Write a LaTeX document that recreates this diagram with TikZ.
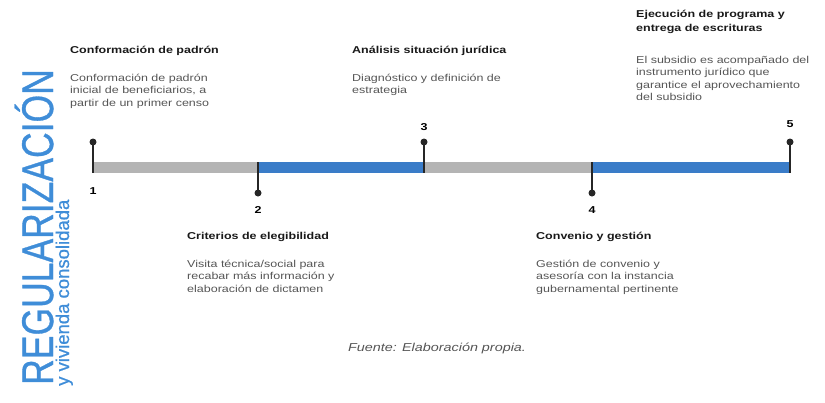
\documentclass[tikz,border=0pt]{standalone}
\usepackage{fontspec}
\setmainfont{Liberation Sans}[FakeStretch=1.25]
\newfontfamily\sidefont{Liberation Sans}[FakeBold=0.8]
\usetikzlibrary{positioning}
\definecolor{tlblue}{HTML}{3A7CC8}
\definecolor{tlgray}{HTML}{B4B4B4}
\definecolor{sideblue}{HTML}{3F8DD8}
\definecolor{txtgray}{HTML}{555555}

\begin{document}
\begin{tikzpicture}[x=1pt, y=-1pt,
  every node/.style={inner sep=0pt},
  dot/.style={circle, draw=none, fill=black!85, minimum size=7pt},
  stem/.style={line width=1.8pt, draw=black!85},
  seg/.style={line width=11pt},
  num/.style={font=\fontsize{10}{12}\selectfont\bfseries},
  head/.style={anchor=base west, align=left, text=black!90, font=\fontsize{10}{13.8}\selectfont\bfseries},
  body/.style={align=left, text=txtgray, font=\fontsize{10}{12.6}\selectfont}]
  \useasboundingbox (0,0) rectangle (825,402);
  % Side title
  \node[rotate=90, anchor=base west, text=sideblue, font=\sidefont\fontsize{35.5}{36}\selectfont] (title) at (53,385) {\scalebox{1}[1.25]{REGULARIZACIÓN}};
  \node[rotate=90, anchor=base west, text=sideblue, font=\sidefont\fontsize{18.5}{19}\selectfont] (subtitle) at (69,386) {y vivienda consolidada};
  % Timeline
  \coordinate (p1) at (93,167.5);
  \coordinate (p2) at (258,167.5);
  \coordinate (p3) at (424,167.5);
  \coordinate (p4) at (592,167.5);
  \coordinate (p5) at (790,167.5);
  \draw[seg, tlgray] (p1) -- (p2);
  \draw[seg, tlblue] (p2) -- (p3);
  \draw[seg, tlgray] (p3) -- (p4);
  \draw[seg, tlblue] (p4) -- (p5);
  % Stems above the bar
  \foreach \i/\x in {1/93, 3/424, 5/790} {
    \node[dot] (d\i) at (\x,142) {};
    \coordinate (e\i) at (\x,173);
    \draw[stem] (d\i.center) -- (e\i);
  }
  % Stems below the bar
  \foreach \i/\x in {2/258, 4/592} {
    \coordinate (e\i) at (\x,162);
    \node[dot] (d\i) at (\x,193) {};
    \draw[stem] (e\i) -- (d\i.center);
  }
  \node[num] (n1) at (93,191) {1};
  \node[num] (n2) at (258,210) {2};
  \node[num] (n3) at (424,127) {3};
  \node[num] (n4) at (592,210) {4};
  \node[num] (n5) at (790,124) {5};
  % Steps
  \node[head] (h1) at (70,53.6) {Conformación de padrón};
  \node[body, below=20pt of h1.base west, anchor=north west] (b1) {Conformación de padrón\\inicial de beneficiarios, a\\partir de un primer censo};
  \node[head] (h3) at (352,53.6) {Análisis situación jurídica};
  \node[body, below=20pt of h3.base west, anchor=north west] (b3) {Diagnóstico y definición de\\estrategia};
  \node[head] (h5) at (636,31.6) {Ejecución de programa y\\entrega de escrituras};
  \node[body, below=24pt of h5.base west, anchor=north west] (b5) {El subsidio es acompañado del\\instrumento jurídico que\\garantice el aprovechamiento\\del subsidio};
  \node[head] (h2) at (187,239.6) {Criterios de elegibilidad};
  \node[body, below=20pt of h2.base west, anchor=north west] (b2) {Visita técnica/social para\\recabar más información y\\elaboración de dictamen};
  \node[head] (h4) at (536,239.6) {Convenio y gestión};
  \node[body, below=20pt of h4.base west, anchor=north west] (b4) {Gestión de convenio y\\asesoría con la instancia\\gubernamental pertinente};
  \node[anchor=base, text=txtgray, font=\fontsize{11.5}{13}\selectfont\itshape] (src) at (437,351.5) {Fuente: Elaboración propia.};
\end{tikzpicture}
\end{document}
